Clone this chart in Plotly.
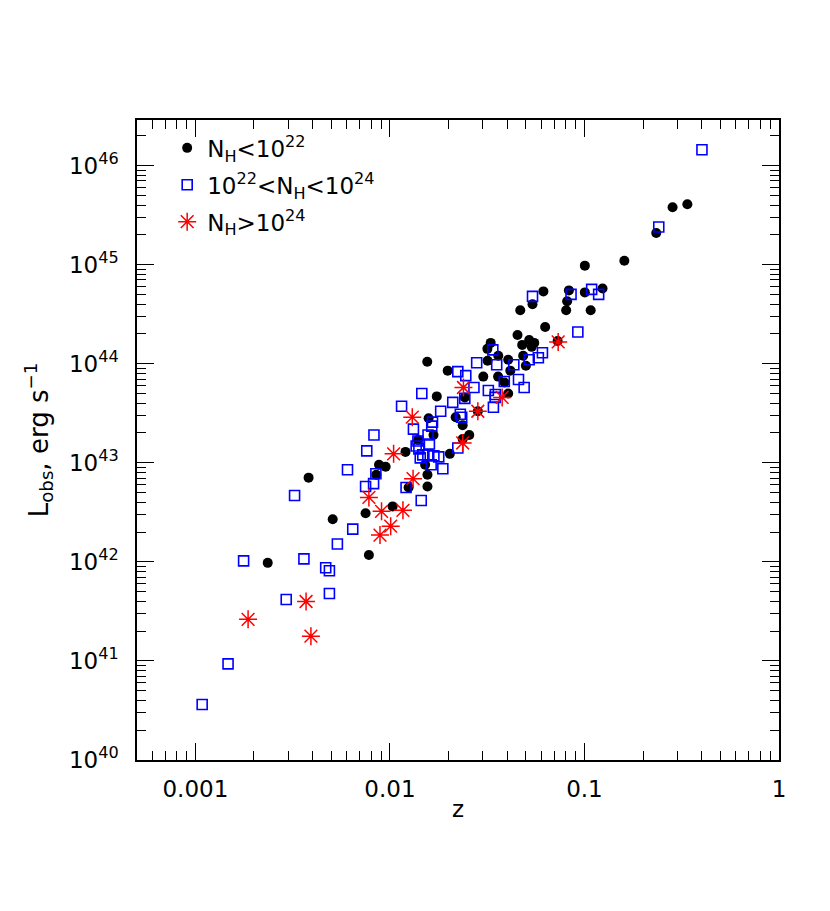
import plotly.graph_objects as go

# log10 z and log10 L_obs
circ_logz = [-2.628,-2.418,-2.294,-2.125,-2.108,-2.056,-2.022,-2.070,-1.986,-1.920,-1.904,-1.807,-1.807,-1.819,-1.855,-1.776,-1.801,-1.662,-1.692,-1.626,-1.592,-1.626,-1.759,-1.615,-1.548,-1.703,-1.808,-1.520,-1.444,-1.381,-1.411,-1.392,-1.482,-1.499,-1.443,-1.392,-1.498,-1.344,-1.320,-1.284,-1.258,-1.271,-1.315,-1.301,-1.202,-1.138,-1.330,-1.267,-1.211,-1.094,-1.089,-1.080,-0.998,-0.968,-0.907,-0.998,-0.795,-0.631,-0.547,-0.471]
circ_logL = [41.99,42.85,42.43,42.49,42.07,42.98,42.96,42.88,42.56,43.11,42.75,42.88,42.76,42.98,43.23,43.28,43.45,43.46,43.09,43.38,43.28,43.24,43.67,43.66,43.52,43.93,44.02,43.87,43.87,43.93,43.81,43.70,44.21,44.15,44.08,44.04,44.03,44.29,44.19,44.24,44.21,44.17,44.08,43.98,44.37,44.23,44.54,44.60,44.73,44.54,44.63,44.74,44.72,44.54,44.76,44.99,45.04,45.32,45.58,45.61]

sq_logz = [-2.965,-2.832,-2.752,-2.533,-2.442,-2.330,-2.311,-2.311,-2.270,-2.191,-2.218,-2.490,-2.125,-2.072,-2.084,-2.119,-2.082,-1.940,-1.879,-1.839,-1.917,-1.836,-1.739,-1.677,-1.781,-1.785,-1.804,-1.856,-1.865,-1.851,-1.797,-1.831,-1.805,-1.774,-1.749,-1.844,-1.788,-1.728,-1.651,-1.638,-1.631,-1.615,-1.568,-1.651,-1.554,-1.494,-1.458,-1.459,-1.468,-1.412,-1.339,-1.310,-1.471,-1.451,-1.363,-1.284,-1.237,-1.216,-1.267,-1.069,-0.963,-0.927,-1.034,-0.618,-0.396,-1.610]
sq_logL = [40.56,40.97,42.01,41.62,42.03,41.94,41.91,41.68,42.18,42.33,42.93,42.67,42.76,42.89,42.79,43.12,43.28,43.57,43.34,42.62,42.75,43.70,43.52,43.61,43.41,43.37,43.28,43.22,43.17,43.14,43.19,43.08,43.08,43.07,43.06,43.05,42.98,42.94,43.15,43.49,43.46,43.65,43.76,43.92,44.01,43.73,43.69,43.66,43.56,43.82,43.84,43.76,44.14,43.99,43.99,44.04,44.06,44.11,44.68,44.70,44.75,44.70,44.32,45.38,46.16,43.88]

st_logz = [-2.729,-2.431,-2.406,-2.108,-2.043,-1.933,-1.996,-2.051,-1.981,-1.881,-1.885,-1.622,-1.548,-1.423,-1.626,-1.135]
st_logL = [41.42,41.60,41.25,42.65,42.51,42.52,42.36,42.27,43.09,42.84,43.46,43.76,43.52,43.66,43.20,44.22]

series_names = ["N<sub>H</sub><10<sup>22</sup>",
                "10<sup>22</sup><N<sub>H</sub><10<sup>24</sup>",
                "N<sub>H</sub>>10<sup>24</sup>"]

x_tickvals = [0.001, 0.01, 0.1, 1]
x_ticktext = ["0.001", "0.01", "0.1", "1"]
y_exps = [40, 41, 42, 43, 44, 45, 46]
minor_digits = [2, 3, 4, 5, 6, 7, 8, 9]

def tolin(v):
    return [10.0 ** a for a in v]

x_minor = [k * 10.0 ** e for e in [-4, -3, -2, -1] for k in minor_digits]
y_minor = [k * 10.0 ** e for e in [40, 41, 42, 43, 44, 45, 46] for k in minor_digits]

FONT = "DejaVu Sans"
fig = go.Figure()
fig.add_trace(go.Scatter(x=tolin(circ_logz), y=tolin(circ_logL), mode="markers",
                         name=series_names[0], legendgroup="a",
                         marker=dict(symbol="circle", size=10, color="black", line=dict(width=0))))
fig.add_trace(go.Scatter(x=tolin(sq_logz), y=tolin(sq_logL), mode="markers",
                         name=series_names[1], legendgroup="b",
                         marker=dict(symbol="square-open", size=10, color="#0000ff", line=dict(width=1.6, color="#0000ff"))))
fig.add_trace(go.Scatter(x=tolin(st_logz), y=tolin(st_logL), mode="markers",
                         name=series_names[2], legendgroup="c",
                         marker=dict(symbol="asterisk-open", size=15, color="#ff0000", line=dict(width=1.5, color="#ff0000"))))

axcommon = dict(type="log", showgrid=False, zeroline=False, showline=True, linecolor="black",
                linewidth=1.5, mirror="allticks", ticks="inside", ticklen=17, tickwidth=1.3,
                tickcolor="black", tickfont=dict(family=FONT, size=23, color="black"))

fig.update_xaxes(**axcommon, range=[-3.30, 0.0], tickvals=x_tickvals, ticktext=x_ticktext,
                 ticklabelstandoff=8,
                 minor=dict(tickvals=x_minor, ticks="inside", ticklen=9, tickwidth=1.1,
                            tickcolor="black", showgrid=False),
                 title=dict(text="z", font=dict(family=FONT, size=23, color="black"), standoff=0))
fig.update_yaxes(**axcommon, range=[40, 46.46], tickvals=[10.0 ** e for e in y_exps],
                 ticktext=["10<sup>%d</sup>" % e for e in y_exps],
                 ticklabelstandoff=12,
                 minor=dict(tickvals=y_minor, ticks="inside", ticklen=9, tickwidth=1.1,
                            tickcolor="black", showgrid=False),
                 title=dict(text="L<sub>obs</sub>, erg s<sup>−1</sup>", font=dict(family=FONT, size=26, color="black"), standoff=13))

fig.update_layout(width=830, height=911, paper_bgcolor="white", plot_bgcolor="white",
                  margin=dict(l=129, r=59, t=112, b=159),
                  showlegend=True,
                  legend=dict(x=0.047, y=0.99, xanchor="left", yanchor="top", bgcolor="rgba(0,0,0,0)",
                              font=dict(family=FONT, size=23, color="black"), tracegroupgap=4,
                              itemwidth=30))
fig.write_html("out.html")
